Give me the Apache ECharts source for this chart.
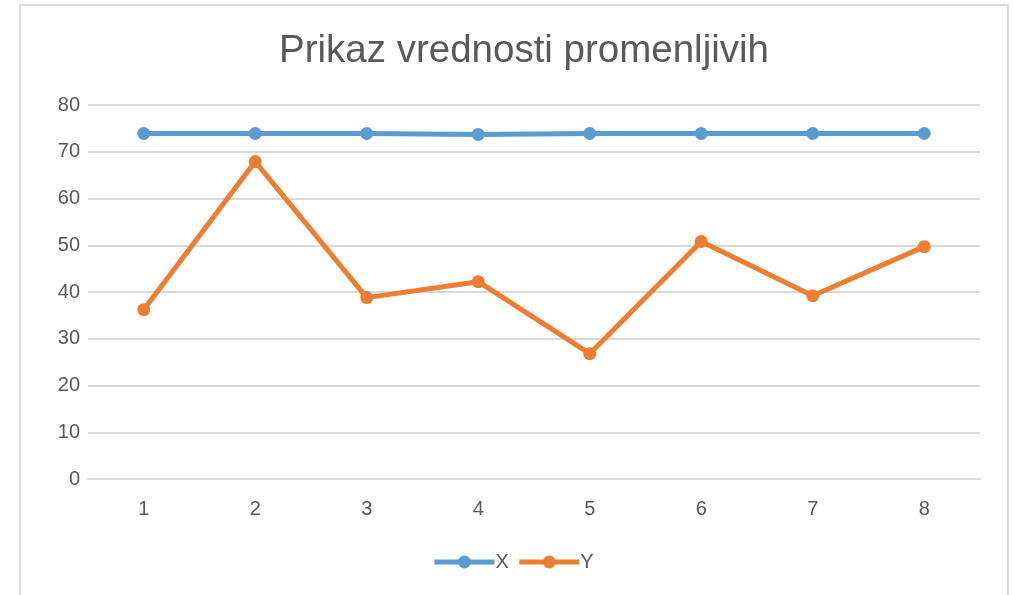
<!DOCTYPE html>
<html>
<head>
<meta charset="utf-8">
<script src="https://cdn.jsdelivr.net/npm/echarts@6/dist/echarts.min.js"></script>
<style>
  html, body { margin: 0; padding: 0; background: #fff; }
  #chart { width: 1014px; height: 595px; }
</style>
</head>
<body>
<div id="chart"></div>
<script>
const categories = ["1", "2", "3", "4", "5", "6", "7", "8"];
const xValues = [73.9, 73.9, 73.9, 73.7, 73.9, 73.9, 73.9, 73.9];
const yValues = [36.2, 67.9, 38.8, 42.2, 26.8, 50.8, 39.2, 49.7];

let mychart = echarts.init(document.getElementById("chart"));
mychart.setOption({
  textStyle: { fontFamily: "Liberation Sans, Arial, sans-serif" },
  title: {
    text: "Prikaz vrednosti promenljivih",
    left: 274,
    top: 27,
    textStyle: { color: "#595959", fontSize: 38.5, fontWeight: "normal" },
  },
  graphic: [
    {
      type: "rect",
      shape: { x: 20, y: 5, width: 988, height: 600 },
      style: { fill: "none", stroke: "#d9d9d9", lineWidth: 2 },
      silent: true,
    },
  ],
  grid: {
    left: 88,
    right: 34,
    top: 105,
    bottom: 116,
  },
  legend: {
    bottom: 18,
    left: 427,
    itemWidth: 60,
    itemHeight: 16,
    itemGap: 8,
    lineStyle: { width: 5 },
    textStyle: { color: "#595959", fontSize: 20, padding: [0, 0, 0, -4] },
    data: ["X", "Y"],
  },
  xAxis: {
    type: "category",
    data: categories,
    boundaryGap: true,
    axisLine: { lineStyle: { color: "#d9d9d9", width: 2 } },
    axisTick: { show: false },
    axisLabel: { color: "#595959", fontSize: 20, margin: 20 },
  },
  yAxis: {
    type: "value",
    min: 0,
    max: 80,
    interval: 10,
    axisLine: { show: false },
    axisTick: { show: false },
    splitLine: { lineStyle: { color: "#d9d9d9", width: 2 } },
    axisLabel: { color: "#595959", fontSize: 20, margin: 8 },
  },
  series: [
    {
      name: "X",
      type: "line",
      data: xValues,
      symbol: "circle",
      symbolSize: 13,
      lineStyle: { width: 5, color: "#5b9bd5" },
      itemStyle: { color: "#5b9bd5" },
    },
    {
      name: "Y",
      type: "line",
      data: yValues,
      symbol: "circle",
      symbolSize: 13,
      lineStyle: { width: 5, color: "#ed7d31" },
      itemStyle: { color: "#ed7d31" },
    },
  ],
});
</script>
</body>
</html>
